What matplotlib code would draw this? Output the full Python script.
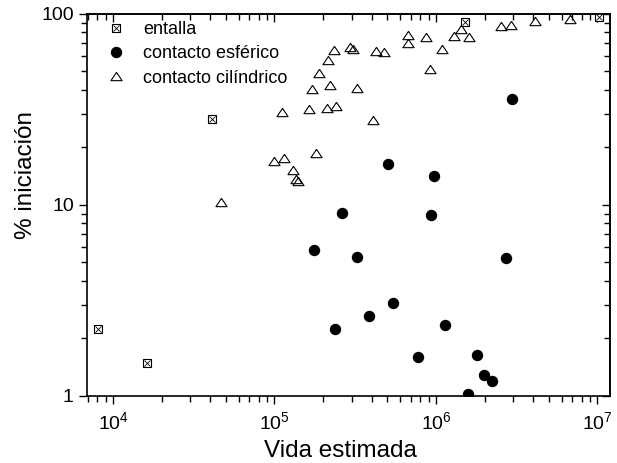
import matplotlib
matplotlib.use("Agg")
import matplotlib.pyplot as plt
from matplotlib.legend_handler import HandlerTuple
from matplotlib.ticker import LogLocator, NullFormatter, FixedLocator, FixedFormatter

plt.rcParams['font.family'] = ['Liberation Sans', 'DejaVu Sans']
plt.rcParams['mathtext.fontset'] = 'custom'
plt.rcParams['mathtext.rm'] = 'Liberation Sans'
plt.rcParams['mathtext.it'] = 'Liberation Sans'

# entalla
ent_x = [8070, 16300, 40800, 1.51e6, 1.02e7]
ent_y = [2.24, 1.49, 28.0, 90.6, 96.0]

# contacto esférico
esf_x = [2.94e6, 5.07e5, 9.76e5, 2.62e5, 9.3e5, 1.76e5, 3.23e5, 2.72e6, 5.45e5,
         3.83e5, 2.37e5, 1.14e6, 7.77e5, 1.79e6, 1.97e6, 2.23e6, 1.59e6]
esf_y = [35.7, 16.3, 14.1, 9.1, 8.8, 5.83, 5.36, 5.24, 3.08,
         2.62, 2.23, 2.36, 1.60, 1.63, 1.28, 1.19, 1.02]

# contacto cilíndrico
cil_x = [46700, 99800, 1.14e5, 1.31e5, 1.36e5, 1.39e5, 1.82e5, 1.11e5, 1.63e5,
         2.10e5, 2.42e5, 1.70e5, 2.21e5, 1.89e5, 2.14e5, 2.35e5, 2.94e5, 3.05e5,
         3.23e5, 4.09e5, 4.25e5, 4.78e5, 6.69e5, 6.69e5, 8.67e5, 9.14e5, 1.09e6,
         1.30e6, 1.42e6, 1.60e6, 2.53e6, 2.90e6, 4.11e6, 6.78e6]
cil_y = [10.4, 17.0, 17.5, 15.3, 13.7, 13.4, 18.6, 30.7, 31.7,
         32.2, 33.1, 40.4, 42.3, 49.3, 57.3, 64.6, 67.0, 65.6,
         41.1, 27.9, 63.6, 63.3, 77.6, 70.8, 76.1, 51.4, 65.5,
         76.7, 83.2, 75.5, 85.9, 87.3, 92.3, 94.2]

labels = ['entalla', 'contacto esférico', 'contacto cilíndrico']
x_ticks = [1e4, 1e5, 1e6, 1e7]
x_ticklabels = ['$10^4$', '$10^5$', '$10^6$', '$10^7$']
y_ticks = [1, 10, 100]
y_ticklabels = ['1', '10', '100']

fig = plt.figure(figsize=(6.17, 4.63), dpi=100)
ax = fig.add_axes([0.141, 0.145, 0.848, 0.825])

tri = [(0, 0.75), (-1, -0.75), (1, -0.75), (0, 0.75)]

h_sq, = ax.plot(ent_x, ent_y, ls='none', marker='s', ms=5.5, mfc='white', mec='black', mew=0.8)
h_x, = ax.plot(ent_x, ent_y, ls='none', marker='x', ms=4, mec='black', mew=0.6)
h_c, = ax.plot(esf_x, esf_y, ls='none', marker='o', ms=7.2, mfc='black', mec='black')
h_t, = ax.plot(cil_x, cil_y, ls='none', marker=tri, ms=8, mfc='none', mec='black', mew=0.8)

ax.set_xscale('log')
ax.set_yscale('log')
ax.set_xlim(6900, 1.2e7)
ax.set_ylim(1, 100)

ax.xaxis.set_major_locator(FixedLocator(x_ticks))
ax.xaxis.set_major_formatter(FixedFormatter(x_ticklabels))
ax.xaxis.set_minor_locator(LogLocator(base=10, subs=range(2, 10)))
ax.xaxis.set_minor_formatter(NullFormatter())
ax.yaxis.set_major_locator(FixedLocator(y_ticks))
ax.yaxis.set_major_formatter(FixedFormatter(y_ticklabels))
ax.yaxis.set_minor_locator(LogLocator(base=10, subs=range(2, 10)))
ax.yaxis.set_minor_formatter(NullFormatter())

ax.tick_params(which='both', direction='out', top=False, right=False, labelsize=14, width=1)
ax.tick_params(which='major', length=6)
ax.tick_params(which='minor', length=4)
ax.tick_params(axis='x', pad=5)
for s in ax.spines.values():
    s.set_linewidth(1.2)

# mirrored inward ticks on top/right
secx = ax.secondary_xaxis('top')
secx.xaxis.set_major_locator(FixedLocator(x_ticks))
secx.xaxis.set_minor_locator(LogLocator(base=10, subs=range(2, 10)))
secx.tick_params(which='both', direction='in', labeltop=False, width=1)
secx.tick_params(which='major', length=6)
secx.tick_params(which='minor', length=4)
secy = ax.secondary_yaxis('right')
secy.yaxis.set_major_locator(FixedLocator(y_ticks))
secy.yaxis.set_minor_locator(LogLocator(base=10, subs=range(2, 10)))
secy.tick_params(which='both', direction='in', labelright=False, width=1)
secy.tick_params(which='major', length=6)
secy.tick_params(which='minor', length=4)
secx.spines['top'].set_linewidth(1.2)
secy.spines['right'].set_linewidth(1.2)

ax.set_xlabel('Vida estimada', fontsize=17.5)
ax.set_ylabel('% iniciación', fontsize=17.5)
ax.xaxis.set_label_coords(0.484, -0.115)
ax.yaxis.set_label_coords(-0.095, 0.578)

ax.legend([(h_sq, h_x), h_c, h_t], labels, handler_map={tuple: HandlerTuple(ndivide=1, pad=0)},
          loc='upper left', frameon=False, fontsize=13, handlelength=1.0, handletextpad=1.0,
          labelspacing=0.4, borderaxespad=0.0, bbox_to_anchor=(0.025, 1.0))

fig.savefig('out.png', dpi=100)
